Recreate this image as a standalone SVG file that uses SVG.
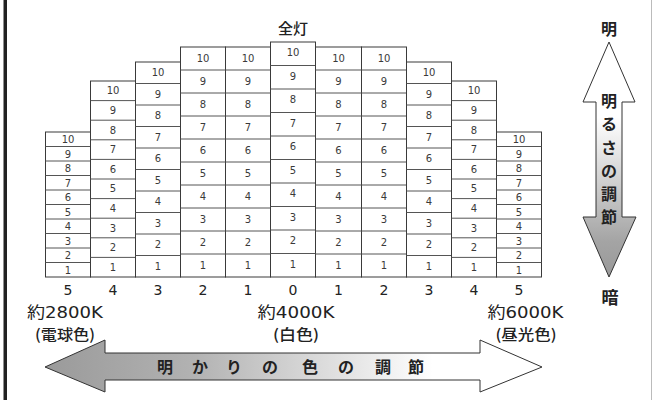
<svg xmlns="http://www.w3.org/2000/svg" width="656" height="401" viewBox="0 0 656 401">
<style>
.col{fill:#fff;stroke:#3a3a3a;stroke-width:1}
.ln{fill:none;stroke:#555;stroke-width:1}
.n{font-family:"DejaVu Sans","Noto Sans CJK JP",sans-serif;font-size:10px;fill:#3a3a3a;text-anchor:middle}
.b{font-family:"DejaVu Sans","Noto Sans CJK JP",sans-serif;font-size:14px;fill:#222;text-anchor:middle}
.k{font-family:"DejaVu Sans","Noto Sans CJK JP",sans-serif;font-size:15.5px;fill:#222;text-anchor:middle}
.j{font-family:"Noto Sans CJK JP",sans-serif;font-size:15px;fill:#222;text-anchor:middle;font-weight:500}
.a{font-family:"Noto Sans CJK JP",sans-serif;font-size:16px;fill:#222;text-anchor:middle;font-weight:700}
.arr{stroke:#333;stroke-width:1}
</style>
<defs>
<linearGradient id="gh" gradientUnits="userSpaceOnUse" x1="45" y1="0" x2="542" y2="0">
<stop offset="0" stop-color="#9a9a9a"/><stop offset="0.3" stop-color="#b2b2b2"/><stop offset="0.78" stop-color="#fff"/><stop offset="1" stop-color="#fff"/>
</linearGradient>
<linearGradient id="gv" gradientUnits="userSpaceOnUse" x1="0" y1="42" x2="0" y2="277">
<stop offset="0" stop-color="#fff"/><stop offset="0.32" stop-color="#fff"/><stop offset="0.85" stop-color="#a4a4a4"/><stop offset="1" stop-color="#999"/>
</linearGradient>
</defs>
<rect x="0" y="0" width="656" height="401" fill="#fff"/>
<rect x="3.5" y="0" width="3.5" height="400" fill="#222"/>
<line x1="651.5" y1="0" x2="651.5" y2="400" stroke="#bbb" stroke-width="1"/>

<g id="col-w5">
<rect class="col" x="45.5" y="132" width="45" height="145"/>
<path class="ln" d="M45.5 146.5H90.5M45.5 161H90.5M45.5 175.5H90.5M45.5 190H90.5M45.5 204.5H90.5M45.5 219H90.5M45.5 233.5H90.5M45.5 248H90.5M45.5 262.5H90.5"/>
<text class="n" x="68" y="143">10</text><text class="n" x="68" y="157.5">9</text><text class="n" x="68" y="172">8</text><text class="n" x="68" y="186.5">7</text><text class="n" x="68" y="201">6</text><text class="n" x="68" y="215.5">5</text><text class="n" x="68" y="230">4</text><text class="n" x="68" y="244.5">3</text><text class="n" x="68" y="259">2</text><text class="n" x="68" y="273.5">1</text>
</g>
<g id="col-w4">
<rect class="col" x="90.5" y="81" width="45" height="196"/>
<path class="ln" d="M90.5 100.6H135.5M90.5 120.2H135.5M90.5 139.8H135.5M90.5 159.4H135.5M90.5 179H135.5M90.5 198.6H135.5M90.5 218.2H135.5M90.5 237.8H135.5M90.5 257.4H135.5"/>
<text class="n" x="113" y="94.4">10</text><text class="n" x="113" y="114">9</text><text class="n" x="113" y="133.6">8</text><text class="n" x="113" y="153.2">7</text><text class="n" x="113" y="172.8">6</text><text class="n" x="113" y="192.4">5</text><text class="n" x="113" y="212">4</text><text class="n" x="113" y="231.6">3</text><text class="n" x="113" y="251.2">2</text><text class="n" x="113" y="270.8">1</text>
</g>
<g id="col-w3">
<rect class="col" x="135.5" y="62" width="45" height="215"/>
<path class="ln" d="M135.5 83.5H180.5M135.5 105H180.5M135.5 126.5H180.5M135.5 148H180.5M135.5 169.5H180.5M135.5 191H180.5M135.5 212.5H180.5M135.5 234H180.5M135.5 255.5H180.5"/>
<text class="n" x="158" y="76.4">10</text><text class="n" x="158" y="97.9">9</text><text class="n" x="158" y="119.4">8</text><text class="n" x="158" y="140.9">7</text><text class="n" x="158" y="162.4">6</text><text class="n" x="158" y="183.9">5</text><text class="n" x="158" y="205.4">4</text><text class="n" x="158" y="226.9">3</text><text class="n" x="158" y="248.4">2</text><text class="n" x="158" y="269.9">1</text>
</g>
<g id="col-w2">
<rect class="col" x="180.5" y="47" width="45" height="230"/>
<path class="ln" d="M180.5 70H225.5M180.5 93H225.5M180.5 116H225.5M180.5 139H225.5M180.5 162H225.5M180.5 185H225.5M180.5 208H225.5M180.5 231H225.5M180.5 254H225.5"/>
<text class="n" x="203" y="62.1">10</text><text class="n" x="203" y="85.1">9</text><text class="n" x="203" y="108.1">8</text><text class="n" x="203" y="131.1">7</text><text class="n" x="203" y="154.1">6</text><text class="n" x="203" y="177.1">5</text><text class="n" x="203" y="200.1">4</text><text class="n" x="203" y="223.1">3</text><text class="n" x="203" y="246.1">2</text><text class="n" x="203" y="269.1">1</text>
</g>
<g id="col-w1">
<rect class="col" x="225.5" y="47" width="45" height="230"/>
<path class="ln" d="M225.5 70H270.5M225.5 93H270.5M225.5 116H270.5M225.5 139H270.5M225.5 162H270.5M225.5 185H270.5M225.5 208H270.5M225.5 231H270.5M225.5 254H270.5"/>
<text class="n" x="248" y="62.1">10</text><text class="n" x="248" y="85.1">9</text><text class="n" x="248" y="108.1">8</text><text class="n" x="248" y="131.1">7</text><text class="n" x="248" y="154.1">6</text><text class="n" x="248" y="177.1">5</text><text class="n" x="248" y="200.1">4</text><text class="n" x="248" y="223.1">3</text><text class="n" x="248" y="246.1">2</text><text class="n" x="248" y="269.1">1</text>
</g>
<g id="col-0">
<rect class="col" x="270.5" y="42" width="45" height="235"/>
<path class="ln" d="M270.5 65.5H315.5M270.5 89H315.5M270.5 112.5H315.5M270.5 136H315.5M270.5 159.5H315.5M270.5 183H315.5M270.5 206.5H315.5M270.5 230H315.5M270.5 253.5H315.5"/>
<text class="n" x="293" y="56">10</text><text class="n" x="293" y="79.5">9</text><text class="n" x="293" y="103">8</text><text class="n" x="293" y="126.5">7</text><text class="n" x="293" y="150">6</text><text class="n" x="293" y="173.5">5</text><text class="n" x="293" y="197">4</text><text class="n" x="293" y="220.5">3</text><text class="n" x="293" y="244">2</text><text class="n" x="293" y="267.5">1</text>
</g>
<g id="col-c1">
<rect class="col" x="315.5" y="47" width="46" height="230"/>
<path class="ln" d="M315.5 70H361.5M315.5 93H361.5M315.5 116H361.5M315.5 139H361.5M315.5 162H361.5M315.5 185H361.5M315.5 208H361.5M315.5 231H361.5M315.5 254H361.5"/>
<text class="n" x="338.5" y="62.1">10</text><text class="n" x="338.5" y="85.1">9</text><text class="n" x="338.5" y="108.1">8</text><text class="n" x="338.5" y="131.1">7</text><text class="n" x="338.5" y="154.1">6</text><text class="n" x="338.5" y="177.1">5</text><text class="n" x="338.5" y="200.1">4</text><text class="n" x="338.5" y="223.1">3</text><text class="n" x="338.5" y="246.1">2</text><text class="n" x="338.5" y="269.1">1</text>
</g>
<g id="col-c2">
<rect class="col" x="361.5" y="47" width="45" height="230"/>
<path class="ln" d="M361.5 70H406.5M361.5 93H406.5M361.5 116H406.5M361.5 139H406.5M361.5 162H406.5M361.5 185H406.5M361.5 208H406.5M361.5 231H406.5M361.5 254H406.5"/>
<text class="n" x="384" y="62.1">10</text><text class="n" x="384" y="85.1">9</text><text class="n" x="384" y="108.1">8</text><text class="n" x="384" y="131.1">7</text><text class="n" x="384" y="154.1">6</text><text class="n" x="384" y="177.1">5</text><text class="n" x="384" y="200.1">4</text><text class="n" x="384" y="223.1">3</text><text class="n" x="384" y="246.1">2</text><text class="n" x="384" y="269.1">1</text>
</g>
<g id="col-c3">
<rect class="col" x="406.5" y="62" width="45" height="215"/>
<path class="ln" d="M406.5 83.5H451.5M406.5 105H451.5M406.5 126.5H451.5M406.5 148H451.5M406.5 169.5H451.5M406.5 191H451.5M406.5 212.5H451.5M406.5 234H451.5M406.5 255.5H451.5"/>
<text class="n" x="429" y="76.4">10</text><text class="n" x="429" y="97.9">9</text><text class="n" x="429" y="119.4">8</text><text class="n" x="429" y="140.9">7</text><text class="n" x="429" y="162.4">6</text><text class="n" x="429" y="183.9">5</text><text class="n" x="429" y="205.4">4</text><text class="n" x="429" y="226.9">3</text><text class="n" x="429" y="248.4">2</text><text class="n" x="429" y="269.9">1</text>
</g>
<g id="col-c4">
<rect class="col" x="451.5" y="81" width="45" height="196"/>
<path class="ln" d="M451.5 100.6H496.5M451.5 120.2H496.5M451.5 139.8H496.5M451.5 159.4H496.5M451.5 179H496.5M451.5 198.6H496.5M451.5 218.2H496.5M451.5 237.8H496.5M451.5 257.4H496.5"/>
<text class="n" x="474" y="94.4">10</text><text class="n" x="474" y="114">9</text><text class="n" x="474" y="133.6">8</text><text class="n" x="474" y="153.2">7</text><text class="n" x="474" y="172.8">6</text><text class="n" x="474" y="192.4">5</text><text class="n" x="474" y="212">4</text><text class="n" x="474" y="231.6">3</text><text class="n" x="474" y="251.2">2</text><text class="n" x="474" y="270.8">1</text>
</g>
<g id="col-c5">
<rect class="col" x="496.5" y="132" width="45" height="145"/>
<path class="ln" d="M496.5 146.5H541.5M496.5 161H541.5M496.5 175.5H541.5M496.5 190H541.5M496.5 204.5H541.5M496.5 219H541.5M496.5 233.5H541.5M496.5 248H541.5M496.5 262.5H541.5"/>
<text class="n" x="519" y="143">10</text><text class="n" x="519" y="157.5">9</text><text class="n" x="519" y="172">8</text><text class="n" x="519" y="186.5">7</text><text class="n" x="519" y="201">6</text><text class="n" x="519" y="215.5">5</text><text class="n" x="519" y="230">4</text><text class="n" x="519" y="244.5">3</text><text class="n" x="519" y="259">2</text><text class="n" x="519" y="273.5">1</text>
</g>

<g id="labels">
<text class="j" x="293" y="34">全灯</text>
<text class="b" x="68" y="295">5</text><text class="b" x="113" y="295">4</text><text class="b" x="158" y="295">3</text><text class="b" x="203" y="295">2</text><text class="b" x="248" y="295">1</text><text class="b" x="293" y="295">0</text><text class="b" x="338.5" y="295">1</text><text class="b" x="384" y="295">2</text><text class="b" x="429" y="295">3</text><text class="b" x="474" y="295">4</text><text class="b" x="519" y="295">5</text>
<text class="k" x="65" y="318" textLength="76" lengthAdjust="spacingAndGlyphs">約2800K</text>
<text class="j" x="65" y="340" textLength="60" lengthAdjust="spacingAndGlyphs">(電球色)</text>
<text class="k" x="296" y="318" textLength="77" lengthAdjust="spacingAndGlyphs">約4000K</text>
<text class="j" x="296" y="340" textLength="46" lengthAdjust="spacingAndGlyphs">(白色)</text>
<text class="k" x="525.5" y="318" textLength="76" lengthAdjust="spacingAndGlyphs">約6000K</text>
<text class="j" x="526" y="340" textLength="61" lengthAdjust="spacingAndGlyphs">(昼光色)</text>
</g>

<g id="connectors">
<path id="arrow-color" class="arr" fill="url(#gh)" d="M45 367L105 340V353H480V340L542 367L480 392V380H105V392Z"/>
<path id="arrow-bright" class="arr" fill="url(#gv)" d="M609 42L635 102H622V217H636L609 277L583 217H596V102H583Z"/>
</g>

<g id="arrow-texts">
<text class="a" x="165" y="373">明</text><text class="a" x="200" y="373">か</text><text class="a" x="234" y="373">り</text><text class="a" x="270" y="373">の</text><text class="a" x="310" y="373">色</text><text class="a" x="346" y="373">の</text><text class="a" x="383" y="373">調</text><text class="a" x="416" y="373">節</text>
<text class="a" x="609" y="107">明</text><text class="a" x="609" y="130">る</text><text class="a" x="609" y="154">さ</text><text class="a" x="609" y="177">の</text><text class="a" x="609" y="200">調</text><text class="a" x="609" y="223">節</text>
<text class="a" x="609" y="35">明</text>
<text class="a" x="610" y="304" style="font-size:17px">暗</text>
</g>
</svg>
